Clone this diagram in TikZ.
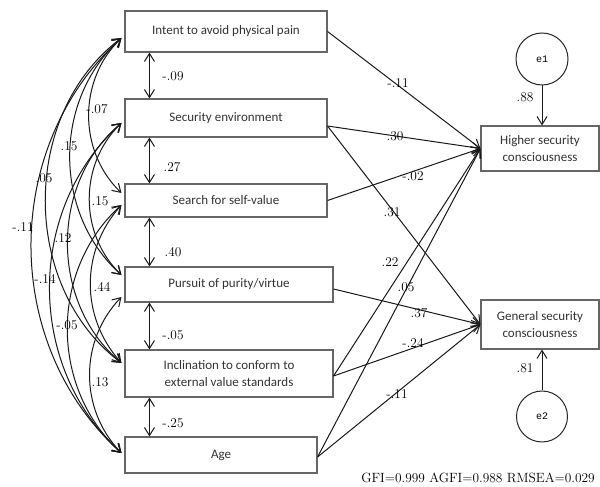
\documentclass[tikz,border=0pt]{standalone}
\usepackage{fontspec}
\newfontfamily\boxfont{Carlito}
\newfontfamily\errfont{Liberation Mono}
\usetikzlibrary{arrows.meta}
\tikzset{
  var/.style={draw=black!60, line width=1.1pt, inner sep=0pt, minimum width=202pt,
    align=center, text=black!80, font=\boxfont\fontsize{13}{16.5}\selectfont},
  err/.style={circle, draw=black!85, line width=1pt, inner sep=0pt, minimum size=52pt,
    font=\errfont\fontsize{10}{12}\selectfont},
  coef/.style={inner sep=0pt, font=\fontsize{13.4}{15}\selectfont},
  tip/.style={Straight Barb[length=8pt,width=10pt]},
  eff/.style={-{Straight Barb[length=8pt,width=10pt]}, line width=1pt, black!90},
  cov/.style={{Straight Barb[length=8pt,width=10pt]}-{Straight Barb[length=8pt,width=10pt]}, line width=1pt, black!90}
}
\begin{document}
\begin{tikzpicture}[x=1pt,y=1pt]
  \useasboundingbox (0,0) rectangle (600,487);
  % observed variables
  \node[var, minimum height=41pt] (pain) at (226,455.5) {Intent to avoid physical pain};
  \node[var, minimum height=38pt] (envir) at (226,369) {Security environment};
  \node[var, minimum height=33pt] (selfv) at (226,286.5) {Search for self-value};
  \node[var, minimum width=208pt, minimum height=35pt] (purity) at (229,202.5) {Pursuit of purity/virtue};
  \node[var, minimum width=208pt, minimum height=47pt] (conform) at (229,113.5) {Inclination to conform to\\external value standards};
  \node[var, minimum width=192pt, minimum height=36pt] (age) at (221,32) {Age};
  \node[var, minimum width=118pt, minimum height=45pt] (higher) at (540,338.5) {Higher security\\consciousness};
  \node[var, minimum width=118pt, minimum height=49pt] (general) at (540,162.5) {General security\\consciousness};
  % errors
  \node[err] (e1) at (542,428) {e1};
  \node[err, minimum size=51pt] (e2) at (542,70.5) {e2};
  % paths
  \begin{scope}[eff]
    \draw (pain.east) -- (higher.west);
    \draw ([yshift=-8pt]envir.east) -- (higher.west);
    \draw ([yshift=-8pt]envir.east) -- (general.west);
    \draw (selfv.east) -- (higher.west);
    \draw ([yshift=-4.5pt]purity.east) -- (general.west);
    \draw ([yshift=-2.5pt]conform.east) -- (higher.west);
    \draw ([yshift=-2.5pt]conform.east) -- (general.west);
    \draw ([yshift=-2pt]age.east) -- (higher.west);
    \draw ([yshift=-2pt]age.east) -- (general.west);
    \draw (e1) -- (e1 |- higher.north);
    \draw (e2) -- (e2 |- general.south);
  \end{scope}
  \node[coef] (p1h) at (398,404) {-.11};
  \node[coef] (p2h) at (395,351) {.30};
  \node[coef] (p3h) at (413,311) {-.02};
  \node[coef] (p2g) at (392,275) {.31};
  \node[coef] (p5h) at (390,225) {.22};
  \node[coef] (p6h) at (406,200) {.05};
  \node[coef] (p4g) at (419,174) {.37};
  \node[coef] (p5g) at (413,144) {-.24};
  \node[coef] (p6g) at (397,93) {-.11};
  \node[coef] (r1) at (525,390) {.88};
  \node[coef] (r2) at (525,119) {.81};
  % covariances
  \coordinate (pain-l) at ([xshift=-3pt,yshift=-6.5pt]pain.west);
  \coordinate (envir-l) at ([xshift=-3pt,yshift=-5pt]envir.west);
  \coordinate (selfv-u) at ([xshift=-3pt,yshift=7.5pt]selfv.west);
  \coordinate (selfv-l) at ([xshift=-3pt,yshift=-4.5pt]selfv.west);
  \coordinate (purity-u) at ([xshift=-3pt,yshift=9.5pt]purity.west);
  \coordinate (purity-l) at ([xshift=-3pt,yshift=-12.5pt]purity.west);
  \coordinate (conform-u) at ([xshift=-3pt,yshift=10.5pt]conform.west);
  \coordinate (age-u) at ([xshift=-3pt,yshift=2pt]age.west);
  \begin{scope}[cov]
    \draw ([xshift=25pt]pain.south west) -- ([xshift=25pt]envir.north west);
    \draw ([xshift=25pt]envir.south west) -- ([xshift=25pt]selfv.north west);
    \draw ([xshift=25pt]selfv.south west) -- ([xshift=25pt]purity.north west);
    \draw ([xshift=25pt]purity.south west) -- ([xshift=25pt]conform.north west);
    \draw ([xshift=25pt]conform.south west) -- ([xshift=25pt]age.north west);
    \draw (pain-l) to[bend right=46] (selfv-u);
    \draw (envir-l) to[bend right=46] (purity-u);
    \draw (selfv-l) to[bend right=42] (conform-u);
    \draw (purity-l) to[bend right=44] (age-u);
    \draw (pain-l) to[bend right=48] (purity-u);
    \draw (envir-l) to[bend right=50] (conform-u);
    \draw (selfv-l) to[bend right=48] (age-u);
    \draw (pain-l) to[bend right=53] (conform-u);
    \draw (envir-l) to[bend right=48] (age-u);
    \draw (pain-l) to[bend right=48] (age-u);
  \end{scope}
  \node[coef] (c12) at (173,411) {-.09};
  \node[coef] (c23) at (172,320) {.27};
  \node[coef] (c34) at (173,235) {.40};
  \node[coef] (c45) at (173,152) {-.05};
  \node[coef] (c56) at (173,64) {-.25};
  \node[coef] (c13) at (97,378) {-.07};
  \node[coef] (c14) at (69,341) {.15};
  \node[coef] (c15) at (44,309) {.05};
  \node[coef] (c16) at (23,260) {-.11};
  \node[coef] (c24) at (100,286) {.15};
  \node[coef] (c25) at (63,249) {.12};
  \node[coef] (c26) at (45,208) {-.14};
  \node[coef] (c35) at (102,200) {.44};
  \node[coef] (c36) at (67,162) {-.05};
  \node[coef] (c46) at (100,105) {.13};
  % fit indices
  \node[coef] (fit) at (478,9) {GFI=0.999 AGFI=0.988 RMSEA=0.029};
\end{tikzpicture}
\end{document}
